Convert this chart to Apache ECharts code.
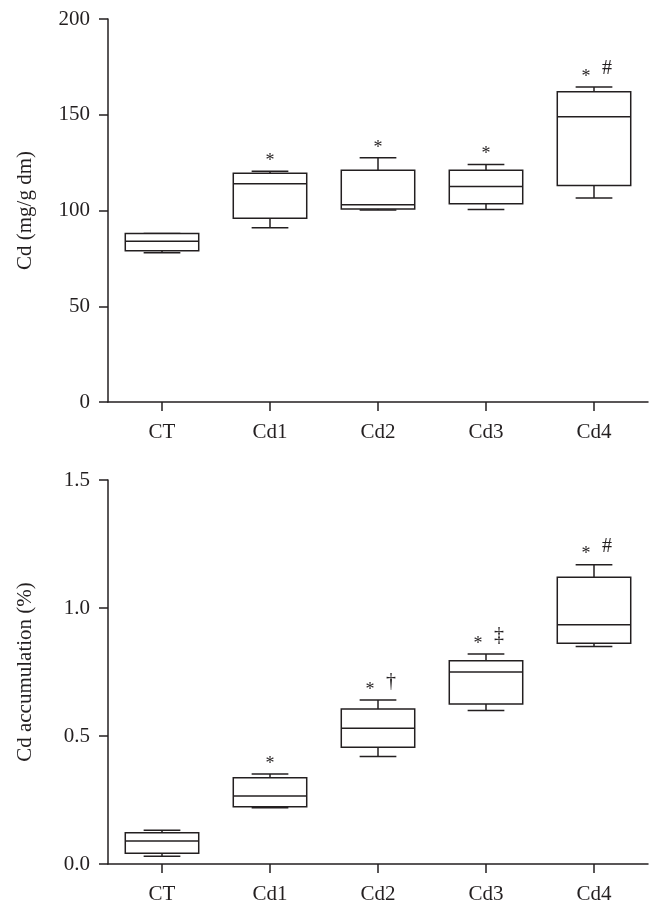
<!DOCTYPE html>
<html>
<head>
<meta charset="utf-8">
<script src="https://cdn.jsdelivr.net/npm/echarts@6/dist/echarts.min.js"></script>
<style>html,body{margin:0;padding:0;background:#fff}#c{width:662px;height:913px}</style>
</head>
<body>
<div id="c"></div>
<script>
const categories = ['CT', 'Cd1', 'Cd2', 'Cd3', 'Cd4'];
// [min, Q1, median, Q3, max]
const cdContent = [
  [78, 79, 84, 88, 88],
  [91, 96, 114, 119.5, 120.5],
  [100.3, 100.8, 103, 121, 127.5],
  [100.5, 103.5, 112.5, 121, 124],
  [106.5, 113, 149, 162, 164.5]
];
const cdAccum = [
  [0.03, 0.042, 0.09, 0.122, 0.132],
  [0.22, 0.224, 0.266, 0.337, 0.352],
  [0.42, 0.456, 0.53, 0.605, 0.641],
  [0.60, 0.625, 0.75, 0.794, 0.82],
  [0.85, 0.862, 0.935, 1.12, 1.169]
];
const cdContentMarks = [[], ['*'], ['*'], ['*'], ['*', '#']];
const cdAccumMarks = [[], ['*'], ['*', '†'], ['*', '‡'], ['*', '#']];
const cdContentTicks = [0, 50, 100, 150, 200];
const cdAccumTicks = [0, 0.5, 1.0, 1.5];

const INK = '#231f20';
const FONT = '"Liberation Serif", "DejaVu Serif", serif';

function makeRender(marks) {
  return function (params, api) {
    const i = api.value(0);
    const pMin = api.coord([i, api.value(1)]);
    const pQ1 = api.coord([i, api.value(2)]);
    const pMed = api.coord([i, api.value(3)]);
    const pQ3 = api.coord([i, api.value(4)]);
    const pMax = api.coord([i, api.value(5)]);
    const band = api.size([1, 0])[0];
    const hw = band * 0.34;
    const cw = hw * 0.5;
    const x = pMed[0];
    const ls = { stroke: INK, lineWidth: 1.5, fill: null };
    const children = [
      { type: 'line', shape: { x1: x, y1: pQ3[1], x2: x, y2: pMax[1] }, style: ls },
      { type: 'line', shape: { x1: x, y1: pQ1[1], x2: x, y2: pMin[1] }, style: ls },
      { type: 'line', shape: { x1: x - cw, y1: pMax[1], x2: x + cw, y2: pMax[1] }, style: ls },
      { type: 'line', shape: { x1: x - cw, y1: pMin[1], x2: x + cw, y2: pMin[1] }, style: ls },
      { type: 'rect', shape: { x: x - hw, y: pQ3[1], width: 2 * hw, height: pQ1[1] - pQ3[1] }, style: { stroke: INK, lineWidth: 1.5, fill: '#fff' } },
      { type: 'line', shape: { x1: x - hw, y1: pMed[1], x2: x + hw, y2: pMed[1] }, style: ls }
    ];
    const m = marks[params.dataIndex] || [];
    const star = (sx) => ({ type: 'text', x: sx, y: pMax[1] - 10, style: { text: '*', font: '18px ' + FONT, fill: INK, align: 'center', verticalAlign: 'middle' } });
    if (m.length === 1) {
      children.push(star(x));
    } else if (m.length === 2) {
      children.push(star(x - 8));
      children.push({ type: 'text', x: x + 13, y: pMax[1] - 18, style: { text: m[1], font: '20px ' + FONT, fill: INK, align: 'center', verticalAlign: 'middle' } });
    }
    return { type: 'group', children: children };
  };
}

function seriesData(arr) {
  return arr.map((v, i) => [i].concat(v));
}

const axisCommon = {
  axisLine: { show: true, lineStyle: { color: INK, width: 1.5 } },
  axisTick: { show: true, lineStyle: { color: INK, width: 1.5 }, length: 9 },
  axisLabel: { color: INK, fontFamily: FONT, fontSize: 21 },
  splitLine: { show: false }
};

const chart = echarts.init(document.getElementById('c'), null, { renderer: 'canvas' });
chart.setOption({
  backgroundColor: '#fff',
  animation: false,
  grid: [
    { left: 108, right: 14, top: 19, height: 383 },
    { left: 108, right: 14, top: 480, height: 384 }
  ],
  xAxis: [0, 1].map(g => Object.assign({}, axisCommon, {
    type: 'category', gridIndex: g, data: categories, boundaryGap: true,
    axisTick: Object.assign({}, axisCommon.axisTick, { alignWithLabel: true }),
    axisLabel: Object.assign({}, axisCommon.axisLabel, { margin: 20 })
  })),
  yAxis: [
    Object.assign({}, axisCommon, {
      type: 'value', gridIndex: 0, min: cdContentTicks[0], max: cdContentTicks[cdContentTicks.length - 1], interval: 50,
      name: 'Cd (mg/g dm)', nameLocation: 'middle', nameGap: 72,
      nameTextStyle: { color: INK, fontFamily: FONT, fontSize: 21 },
      axisLabel: Object.assign({}, axisCommon.axisLabel, { margin: 18 })
    }),
    Object.assign({}, axisCommon, {
      type: 'value', gridIndex: 1, min: cdAccumTicks[0], max: cdAccumTicks[cdAccumTicks.length - 1], interval: 0.5,
      name: 'Cd accumulation (%)', nameLocation: 'middle', nameGap: 72,
      nameTextStyle: { color: INK, fontFamily: FONT, fontSize: 21 },
      axisLabel: Object.assign({}, axisCommon.axisLabel, { margin: 18, formatter: v => v.toFixed(1) })
    })
  ],
  series: [
    { type: 'custom', xAxisIndex: 0, yAxisIndex: 0, renderItem: makeRender(cdContentMarks), encode: { x: 0, y: [1, 2, 3, 4, 5] }, data: seriesData(cdContent) },
    { type: 'custom', xAxisIndex: 1, yAxisIndex: 1, renderItem: makeRender(cdAccumMarks), encode: { x: 0, y: [1, 2, 3, 4, 5] }, data: seriesData(cdAccum) }
  ]
});
</script>
</body>
</html>
